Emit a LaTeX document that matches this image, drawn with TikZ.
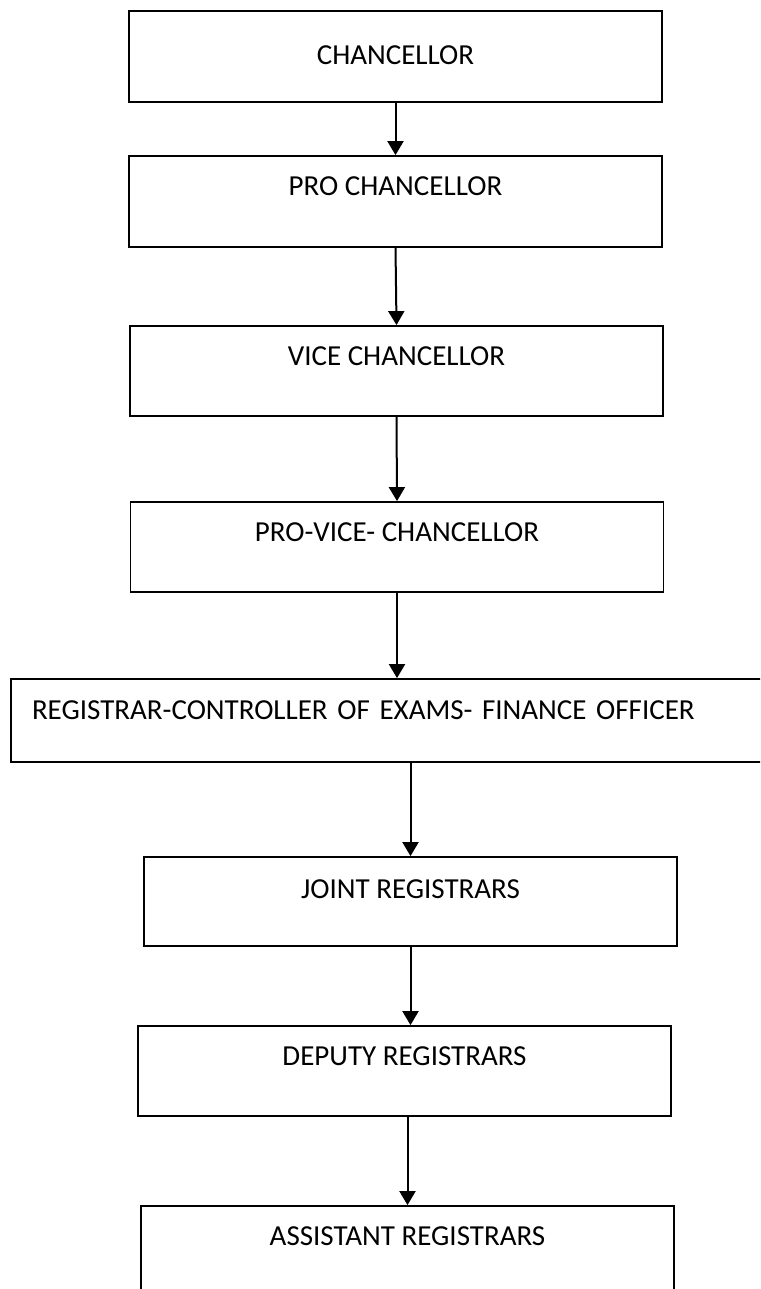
\documentclass[tikz,border=0pt]{standalone}
\usepackage{fontspec}
\setmainfont{Carlito}
\usetikzlibrary{arrows.meta, positioning}

\begin{document}
\begin{tikzpicture}[x=1pt, y=-1pt]

\tikzstyle{post} = [rectangle, draw=black, line width=1.8pt, inner sep=0pt, minimum width=533pt, text height=39pt, text depth=51pt, font=\fontsize{29}{34}\selectfont]
\tikzstyle{arrow} = [-{Triangle[width=16pt, length=14pt]}, line width=2pt, draw=black]

\useasboundingbox (0,0) rectangle (760,1289);
\clip (0,0) rectangle (760,1289);

\node[post, text height=54pt, text depth=37pt] (chan) at (395.5,56.5) {CHANCELLOR};
\node[post, text height=40pt] (prochan) at (395.5,201.5) {PRO CHANCELLOR};
\node[post, text depth=51pt] (vc) at (396.5,371) {VICE CHANCELLOR};
\node[post] (pvc) at (397,547) {PRO-VICE- CHANCELLOR};
\node[post, text width=722pt, inner xsep=21pt, align=left, text height=40pt, text depth=43pt] (reg) at (393,720.5) {REGISTRAR-CONTROLLER OF EXAMS- FINANCE OFFICER};
\node[post, text height=41pt, text depth=48pt] (jr) at (410.5,901.5) {JOINT REGISTRARS};
\node[post] (dr) at (404.5,1071) {DEPUTY REGISTRARS};
\node[post, text depth=71pt] (ar) at (407.5,1261) {ASSISTANT REGISTRARS};

\draw[arrow] (chan.south) -- (prochan.north);
\draw[arrow] (prochan.south) -- (vc.north);
\draw[arrow] (vc.south) -- (pvc.north);
\draw[arrow] (pvc.south) -- (pvc.south |- reg.north);
\draw[arrow] (reg.south -| jr.north) -- (jr.north);
\draw[arrow] (jr.south) -- (jr.south |- dr.north);
\draw[arrow] (dr.south -| ar.north) -- (ar.north);

\end{tikzpicture}
\end{document}
